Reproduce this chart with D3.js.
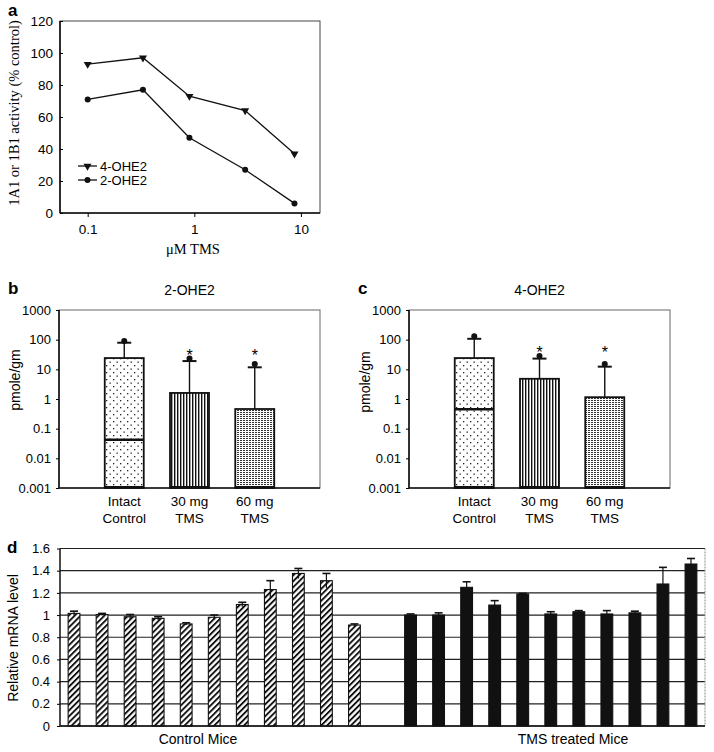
<!DOCTYPE html>
<html><head><meta charset="utf-8">
<script src="https://cdn.jsdelivr.net/npm/d3@7/dist/d3.min.js"></script>
<style>
body{margin:0;background:#fff;}
svg{display:block;}
text{font-family:"Liberation Sans",Arial,sans-serif;fill:#000;}
.serif{font-family:"Liberation Serif","Times New Roman",serif;}
</style></head>
<body>
<script>
// ---------- DATA ----------
// Panel a
const aConc = [0.1, 0.33, 0.9, 3, 8.7];
const a4OHE2 = [93, 97, 73, 64, 37];
const a2OHE2 = [71, 77, 47, 27, 6];
const aYTicks = [0, 20, 40, 60, 80, 100, 120];
const aXTicks = [0.1, 1, 10];
// Panels b, c
const groupLabels = [["Intact", "Control"], ["30 mg", "TMS"], ["60 mg", "TMS"]];
const bMean = [24, 1.6, 0.46];
const bMedian = [0.042, null, null];
const bUpper = [79, 19, 11.7];
const bMax = [90, 23, 15];
const cMean = [24, 4.8, 1.15];
const cMedian = [0.45, null, null];
const cUpper = [107, 23, 12.3];
const cMax = [130, 28, 15];
const significant = [false, true, true];
const logTicks = [0.001, 0.01, 0.1, 1, 10, 100, 1000];
const logTickLabels = ["0.001", "0.01", "0.1", "1", "10", "100", "1000"];
// Panel d
const controlVals = [1.015, 1.005, 0.985, 0.97, 0.92, 0.98, 1.095, 1.23, 1.375, 1.31, 0.91];
const controlErr  = [0.02, 0.01, 0.02, 0.015, 0.01, 0.02, 0.02, 0.08, 0.045, 0.065, 0.01];
const treatedVals = [1.0, 1.0, 1.25, 1.09, 1.19, 1.01, 1.03, 1.01, 1.02, 1.28, 1.46];
const treatedErr  = [0.01, 0.02, 0.05, 0.04, 0.005, 0.02, 0.01, 0.03, 0.015, 0.15, 0.05];
const dTicks = [0, 0.2, 0.4, 0.6, 0.8, 1, 1.2, 1.4, 1.6];

// ---------- SVG ----------
const W = 714, H = 752;
const svg = d3.select("body").append("svg").attr("width", W).attr("height", H);
const defs = svg.append("defs");

// patterns
const pDots = defs.append("pattern").attr("id","pDots").attr("patternUnits","userSpaceOnUse").attr("width",7).attr("height",7);
pDots.append("rect").attr("width",7).attr("height",7).attr("fill","#fff");
pDots.append("rect").attr("x",1).attr("y",1).attr("width",1.3).attr("height",1.3).attr("fill","#222");
pDots.append("rect").attr("x",4.5).attr("y",4.5).attr("width",1.3).attr("height",1.3).attr("fill","#222");
const pVert = defs.append("pattern").attr("id","pVert").attr("patternUnits","userSpaceOnUse").attr("width",3).attr("height",4);
pVert.append("rect").attr("width",3).attr("height",4).attr("fill","#fff");
pVert.append("rect").attr("x",0).attr("width",1.4).attr("height",4).attr("fill","#111");
const pFine = defs.append("pattern").attr("id","pFine").attr("patternUnits","userSpaceOnUse").attr("width",3).attr("height",2);
pFine.append("rect").attr("width",3).attr("height",2).attr("fill","#fff");
pFine.append("rect").attr("x",0).attr("y",0).attr("width",2).attr("height",1).attr("fill","#333");
const pHatch = defs.append("pattern").attr("id","pHatch").attr("patternUnits","userSpaceOnUse").attr("width",4.2).attr("height",4.2).attr("patternTransform","rotate(45)");
pHatch.append("rect").attr("width",4.2).attr("height",4.2).attr("fill","#fff");
pHatch.append("rect").attr("x",0).attr("width",1.9).attr("height",4.2).attr("fill","#111");
const fills = ["url(#pDots)", "url(#pVert)", "url(#pFine)"];

// ---------- PANEL a ----------
(function(){
  const L=60, R=320, T=21, B=213;
  const x = d3.scaleLog().domain([0.055, 15.1]).range([L, R]);
  const y = d3.scaleLinear().domain([0, 120]).range([B, T]);
  const g = svg.append("g");
  g.append("rect").attr("x",L).attr("y",T).attr("width",R-L).attr("height",B-T).attr("fill","none").attr("stroke","#444").attr("stroke-width",1);
  g.append("line").attr("x1",L).attr("x2",L).attr("y1",T).attr("y2",B).attr("stroke","#111").attr("stroke-width",1.6);
  g.append("line").attr("x1",L).attr("x2",R).attr("y1",B).attr("y2",B).attr("stroke","#111").attr("stroke-width",1.6);
  const yAx = g.append("g").attr("transform",`translate(${L},0)`).call(d3.axisLeft(y).tickValues(aYTicks).tickSize(-3).tickPadding(7).tickFormat(d3.format("d")));
  yAx.select(".domain").remove();
  yAx.selectAll("text").style("font-size","13.5px").attr("x",-7);
  const xAx = g.append("g").attr("transform",`translate(0,${B})`).call(d3.axisBottom(x).tickValues(aXTicks).tickSize(4).tickPadding(7).tickFormat(d => d===0.1 ? "0.1" : d3.format("d")(d)));
  xAx.select(".domain").remove();
  xAx.selectAll("text").style("font-size","13.5px");
  const line = d3.line().x((d,i)=>x(aConc[i])).y(d=>y(d));
  g.append("path").attr("d",line(a4OHE2)).attr("fill","none").attr("stroke","#111").attr("stroke-width",1.3);
  g.append("path").attr("d",line(a2OHE2)).attr("fill","none").attr("stroke","#111").attr("stroke-width",1.3);
  const tri = d3.symbol().type(d3.symbolTriangle).size(28);
  g.selectAll(".m4").data(a4OHE2).join("path").attr("d",tri).attr("transform",(d,i)=>`translate(${x(aConc[i])},${y(d)}) rotate(180)`).attr("fill","#111");
  g.selectAll(".m2").data(a2OHE2).join("circle").attr("cx",(d,i)=>x(aConc[i])).attr("cy",d=>y(d)).attr("r",3).attr("fill","#111");
  // legend
  g.append("line").attr("x1",78).attr("x2",97).attr("y1",166).attr("y2",166).attr("stroke","#111").attr("stroke-width",1.3);
  g.append("path").attr("d",tri).attr("transform","translate(87.5,166) rotate(180)").attr("fill","#111");
  g.append("text").attr("x",100).attr("y",170.5).style("font-size","13px").text("4-OHE2");
  g.append("line").attr("x1",78).attr("x2",97).attr("y1",180).attr("y2",180).attr("stroke","#111").attr("stroke-width",1.3);
  g.append("circle").attr("cx",87.5).attr("cy",180).attr("r",3).attr("fill","#111");
  g.append("text").attr("x",100).attr("y",184.5).style("font-size","13px").text("2-OHE2");
  g.append("text").attr("class","serif").attr("transform","translate(19,113) rotate(-90)").attr("text-anchor","middle").style("font-size","14.5px").text("1A1 or 1B1 activity (% control)");
  g.append("text").attr("class","serif").attr("x",193).attr("y",254).attr("text-anchor","middle").style("font-size","14.5px").text("\u03BCM TMS");
  g.append("text").attr("x",8).attr("y",16).style("font-size","17px").style("font-weight","bold").text("a");
})();

// ---------- PANELS b, c ----------
function logPanel(ox, title, letter, mean, median, upper, maxv, starY, labelY){
  const L=ox+59, R=ox+320, T=310, B=488;
  const y = d3.scaleLog().domain([0.001, 1000]).range([B, T]);
  const x = d3.scalePoint().domain(["s", ...groupLabels.map(d=>d.join(" ")), "e"]).range([L, R]);
  const keys = groupLabels.map(d=>d.join(" "));
  const bw = 39;
  const g = svg.append("g");
  g.append("rect").attr("x",L).attr("y",T).attr("width",R-L).attr("height",B-T).attr("fill","none").attr("stroke","#666").attr("stroke-width",1);
  g.append("line").attr("x1",L).attr("x2",L).attr("y1",T).attr("y2",B).attr("stroke","#111").attr("stroke-width",1.6);
  g.append("line").attr("x1",L).attr("x2",R).attr("y1",B).attr("y2",B).attr("stroke","#111").attr("stroke-width",1.6);
  const yAx = g.append("g").attr("transform",`translate(${L},0)`).call(d3.axisLeft(y).tickValues(logTicks).tickSize(3).tickPadding(5).tickFormat((d,i)=>logTickLabels[i]));
  yAx.select(".domain").remove();
  yAx.selectAll("text").style("font-size","13px");
  keys.forEach((k,i)=>{
    const cx = x(k);
    g.append("line").attr("x1",cx).attr("x2",cx).attr("y1",y(mean[i])).attr("y2",y(upper[i])).attr("stroke","#111").attr("stroke-width",1.4);
    g.append("line").attr("x1",cx-7).attr("x2",cx+7).attr("y1",y(upper[i])).attr("y2",y(upper[i])).attr("stroke","#111").attr("stroke-width",2);
    g.append("circle").attr("cx",cx).attr("cy",y(maxv[i])).attr("r",3).attr("fill","#111");
    if(significant[i]) g.append("text").attr("x",cx).attr("y",starY).attr("text-anchor","middle").style("font-size","16px").text("*");
  });
  g.selectAll(".bar").data(keys).join("rect")
    .attr("x",k=>x(k)-bw/2).attr("width",bw)
    .attr("y",(k,i)=>y(mean[i])).attr("height",(k,i)=>B-y(mean[i]))
    .attr("fill",(k,i)=>fills[i]).attr("stroke","#111").attr("stroke-width",1.8);
  keys.forEach((k,i)=>{
    if(median[i]!=null) g.append("line").attr("x1",x(k)-bw/2).attr("x2",x(k)+bw/2).attr("y1",y(median[i])).attr("y2",y(median[i])).attr("stroke","#111").attr("stroke-width",2.5);
    g.append("line").attr("x1",x(k)-bw/2).attr("x2",x(k)+bw/2).attr("y1",B-1).attr("y2",B-1).attr("stroke","#111").attr("stroke-width",2);
    groupLabels[i].forEach((t,j)=>{
      g.append("text").attr("x",x(k)).attr("y",506+j*17).attr("text-anchor","middle").style("font-size","13.5px").text(t);
    });
  });
  g.append("text").attr("x",(L+R)/2).attr("y",295).attr("text-anchor","middle").style("font-size","14px").text(title);
  g.append("text").attr("transform",`translate(${ox+20},${labelY}) rotate(-90)`).attr("text-anchor","middle").style("font-size","14px").text("pmole/gm");
  g.append("text").attr("x",ox+8).attr("y",294).style("font-size","17px").style("font-weight","bold").text(letter);
}
logPanel(0, "2-OHE2", "b", bMean, bMedian, bUpper, bMax, 361, 380);
logPanel(350, "4-OHE2", "c", cMean, cMedian, cUpper, cMax, 358, 382);

// ---------- PANEL d ----------
(function(){
  const L=60, R=705, T=548.5, B=726;
  const y = d3.scaleLinear().domain([0, 1.6]).range([B, T]);
  const n = controlVals.length + 1 + treatedVals.length;
  const x = d3.scaleBand().domain(d3.range(n)).range([L, R]).paddingInner(0.58).paddingOuter(0.29);
  const bars = controlVals.map((v,i)=>({i, v, e:controlErr[i], fill:"url(#pHatch)"}))
    .concat(treatedVals.map((v,i)=>({i:controlVals.length+1+i, v, e:treatedErr[i], fill:"#111"})));
  const g = svg.append("g");
  g.selectAll(".grid").data(dTicks).join("line")
    .attr("x1",L).attr("x2",R).attr("y1",d=>y(d)).attr("y2",d=>y(d))
    .attr("stroke","#222").attr("stroke-width",1.2);
  g.append("line").attr("x1",R).attr("x2",R).attr("y1",T).attr("y2",B).attr("stroke","#888").attr("stroke-width",1).attr("stroke-dasharray","2,1");
  g.append("line").attr("x1",L).attr("x2",L).attr("y1",T).attr("y2",B).attr("stroke","#111").attr("stroke-width",1.5);
  const yAx = g.append("g").attr("transform",`translate(${L},0)`).call(d3.axisLeft(y).tickValues(dTicks).tickSize(3).tickPadding(7).tickFormat(d=>d3.format("~g")(d)));
  yAx.select(".domain").remove();
  yAx.selectAll("text").style("font-size","13px");
  g.selectAll(".eb").data(bars).join("line")
    .attr("x1",d=>x(d.i)+x.bandwidth()/2).attr("x2",d=>x(d.i)+x.bandwidth()/2)
    .attr("y1",d=>y(d.v - d.e)).attr("y2",d=>y(d.v + d.e)).attr("stroke","#111").attr("stroke-width",1.2);
  g.selectAll(".ec").data(bars).join("line")
    .attr("x1",d=>x(d.i)+x.bandwidth()/2-4).attr("x2",d=>x(d.i)+x.bandwidth()/2+4)
    .attr("y1",d=>y(d.v + d.e)).attr("y2",d=>y(d.v + d.e)).attr("stroke","#111").attr("stroke-width",1.6);
  g.selectAll(".bar").data(bars).join("rect")
    .attr("x",d=>x(d.i)).attr("width",x.bandwidth())
    .attr("y",d=>y(d.v)).attr("height",d=>B-y(d.v))
    .attr("fill",d=>d.fill).attr("stroke","#111").attr("stroke-width",1.1);
  g.selectAll(".ebt").data(bars.filter(d=>d.fill!=="#111")).join("line")
    .attr("x1",d=>x(d.i)+x.bandwidth()/2).attr("x2",d=>x(d.i)+x.bandwidth()/2)
    .attr("y1",d=>y(d.v - d.e)).attr("y2",d=>y(d.v)).attr("stroke","#111").attr("stroke-width",1.2);
  g.append("line").attr("x1",L).attr("x2",R).attr("y1",B).attr("y2",B).attr("stroke","#111").attr("stroke-width",1.5);
  g.append("text").attr("x",198).attr("y",744).attr("text-anchor","middle").style("font-size","14px").text("Control Mice");
  g.append("text").attr("x",573).attr("y",744).attr("text-anchor","middle").style("font-size","14px").text("TMS treated Mice");
  g.append("text").attr("transform","translate(18,638) rotate(-90)").attr("text-anchor","middle").style("font-size","14px").text("Relative mRNA level");
  g.append("text").attr("x",7).attr("y",553).style("font-size","17px").style("font-weight","bold").text("d");
})();
</script>
</body></html>
